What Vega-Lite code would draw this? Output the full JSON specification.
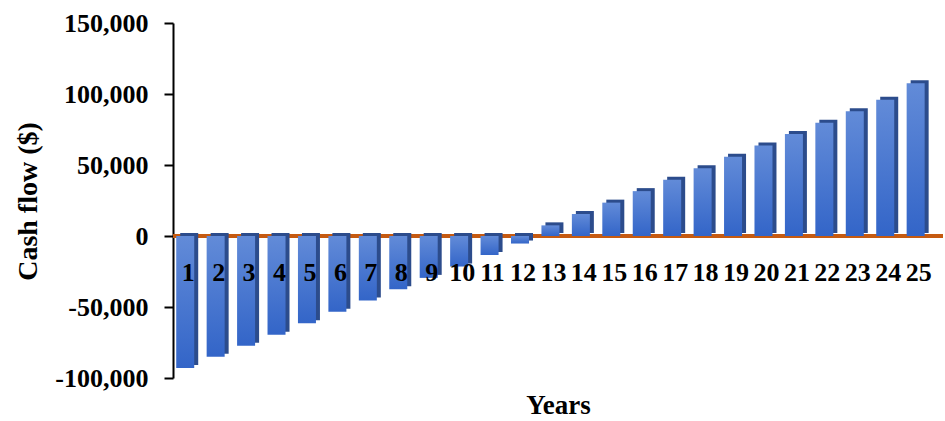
{
  "$schema": "https://vega.github.io/schema/vega-lite/v6.json",
  "width": 770,
  "height": 355,
  "autosize": {"type": "none"},
  "padding": {"left": 173, "top": 23, "right": 2, "bottom": 43},
  "config": {"view": {"stroke": null}, "font": "Liberation Serif"},
  "data": {
    "values": [
      {"year": 1, "cash": -93000},
      {"year": 2, "cash": -85000},
      {"year": 3, "cash": -77300},
      {"year": 4, "cash": -69500},
      {"year": 5, "cash": -61500},
      {"year": 6, "cash": -53300},
      {"year": 7, "cash": -45400},
      {"year": 8, "cash": -37500},
      {"year": 9, "cash": -29500},
      {"year": 10, "cash": -21500},
      {"year": 11, "cash": -13400},
      {"year": 12, "cash": -5300},
      {"year": 13, "cash": 7500},
      {"year": 14, "cash": 15500},
      {"year": 15, "cash": 23500},
      {"year": 16, "cash": 31600},
      {"year": 17, "cash": 39700},
      {"year": 18, "cash": 47700},
      {"year": 19, "cash": 55800},
      {"year": 20, "cash": 63800},
      {"year": 21, "cash": 71800},
      {"year": 22, "cash": 79800},
      {"year": 23, "cash": 87900},
      {"year": 24, "cash": 95900},
      {"year": 25, "cash": 107500}
    ]
  },
  "encoding": {
    "x": {
      "field": "year", "type": "ordinal",
      "scale": {"paddingInner": 0, "paddingOuter": 0.15, "align": 0},
      "axis": {
        "orient": "bottom", "offset": -142, "domain": false, "ticks": false, "zindex": 1,
        "labelAngle": 0, "labelFont": "Liberation Serif", "labelFontSize": 26,
        "labelFontWeight": "bold", "labelColor": "black", "labelPadding": 23,
        "title": "Years", "titleFont": "Liberation Serif", "titleFontSize": 27,
        "titleFontWeight": "bold", "titleColor": "black", "titleY": 156, "titleBaseline": "top"
      }
    },
    "y": {
      "field": "cash", "type": "quantitative",
      "scale": {"domain": [-100000, 150000], "nice": false},
      "axis": {
        "values": [-100000, -50000, 0, 50000, 100000, 150000],
        "labelExpr": "replace(format(datum.value, ','), '\u2212', '-')",
        "grid": false, "domainColor": "black", "domainWidth": 2,
        "tickColor": "black", "tickWidth": 2, "tickSize": 9,
        "labelFont": "Liberation Serif", "labelFontSize": 26, "labelFontWeight": "bold",
        "labelColor": "black", "labelPadding": 16,
        "title": "Cash flow ($)", "titleFont": "Liberation Serif", "titleFontSize": 28,
        "titleFontWeight": "bold", "titleColor": "black", "titleX": -145, "titleY": 178,
        "titleAngle": 270, "titleBaseline": "middle"
      }
    }
  },
  "layer": [
    {
      "mark": {"type": "rule", "color": "#c55a11", "strokeWidth": 3},
      "encoding": {
        "x": null,
        "y": {"datum": 0, "type": "quantitative"}
      }
    },
    {
      "mark": {"type": "bar", "color": "#2c4c8c", "width": 18, "xOffset": 1, "yOffset": -3}
    },
    {
      "mark": {
        "type": "bar",
        "width": 18,
        "xOffset": -3,
        "color": {
          "gradient": "linear", "x1": 0, "y1": 0, "x2": 0, "y2": 1,
          "stops": [{"offset": 0, "color": "#628bd8"}, {"offset": 1, "color": "#3365c8"}]
        }
      }
    }
  ]
}
